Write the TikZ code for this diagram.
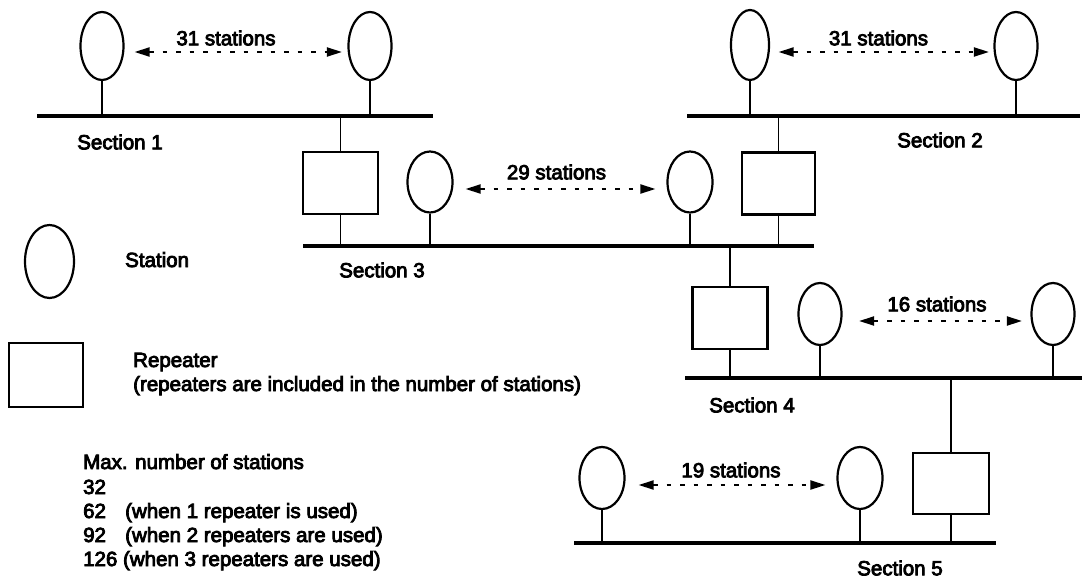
\documentclass[tikz,border=0pt]{standalone}
\usepackage{fontspec}
\setmainfont{Liberation Sans}
\newfontfamily\figfont{Liberation Sans}[FakeBold=4]
\usetikzlibrary{shapes.geometric,arrows.meta}

\begin{document}
\begin{tikzpicture}[x=1pt,y=-1pt,
  every node/.style={font=\figfont\fontsize{20.5}{24}\selectfont},
  station/.style={draw, ellipse, line width=2.2pt, inner sep=0pt,
                  minimum width=43pt, minimum height=64pt},
  repeater/.style={draw, rectangle, line width=2.3pt, inner sep=0pt,
                   minimum width=75pt, minimum height=62pt},
  bus/.style={line width=3.3pt},
  stem/.style={line width=1.7pt},
  span/.style={line width=2.2pt, dash pattern=on 4.5pt off 9pt,
               {Triangle[length=15pt,width=9pt]}-{Triangle[length=15pt,width=9pt]}},
  count/.style={inner sep=0pt},
  seclabel/.style={inner sep=0pt},
  legend/.style={inner sep=0pt, anchor=base west},
]
\useasboundingbox (0,0) rectangle (1082,586);

% ---------- bus lines ----------
\coordinate (b1w) at (37,116);  \coordinate (b1e) at (433,116);
\coordinate (b2w) at (687,116); \coordinate (b2e) at (1080,116);
\coordinate (b3w) at (303,246); \coordinate (b3e) at (814,246);
\coordinate (b4w) at (685,378); \coordinate (b4e) at (1082,378);
\coordinate (b5w) at (574,543); \coordinate (b5e) at (996,543);
\draw[bus] (b1w) -- (b1e);
\draw[bus] (b2w) -- (b2e);
\draw[bus] (b3w) -- (b3e);
\draw[bus] (b4w) -- (b4e);
\draw[bus] (b5w) -- (b5e);

% ---------- stations ----------
\node[station, minimum height=68pt] (s11) at (102,46) {};
\node[station, minimum height=68pt] (s12) at (370,46) {};
\node[station, minimum height=70pt, minimum width=38pt] (s21) at (750,45) {};
\node[station, minimum height=68pt] (s22) at (1016,46) {};
\node[station, minimum height=61pt, minimum width=45pt] (s31) at (430,182) {};
\node[station, minimum height=61pt, minimum width=45pt] (s32) at (690,182) {};
\node[station, minimum height=62pt] (s41) at (820,314) {};
\node[station, minimum height=62pt] (s42) at (1053,314) {};
\node[station, minimum height=62pt, minimum width=45pt] (s51) at (602,478) {};
\node[station, minimum height=62pt, minimum width=45pt] (s52) at (860,478) {};

\foreach \s/\b in {s11/b1w, s12/b1w, s21/b2w, s22/b2w, s31/b3w, s32/b3w,
                   s41/b4w, s42/b4w, s51/b5w, s52/b5w}
  \draw[stem] (\s.south) -- (\s |- \b);

% ---------- repeaters ----------
\node[repeater] (r1) at (340.5,183) {};
\node[repeater, minimum width=73pt] (r2) at (778.5,183.5) {};
\node[repeater] (r3) at (730,318) {};
\node[repeater, minimum width=76pt, minimum height=61pt] (r4) at (951,483.5) {};

\draw[stem] (r1 |- b1w) -- (r1.north);  \draw[stem] (r1.south) -- (r1 |- b3w);
\draw[stem] (r2 |- b2w) -- (r2.north);  \draw[stem] (r2.south) -- (r2 |- b3w);
\draw[stem] (r3 |- b3w) -- (r3.north);  \draw[stem] (r3.south) -- (r3 |- b4w);
\draw[stem] (r4 |- b4w) -- (r4.north);  \draw[stem] (r4.south) -- (r4 |- b5w);

% ---------- station counts ----------
\draw[span] ([xshift=10pt,yshift=-6pt]s11.east) -- ([xshift=-5.5pt,yshift=-6pt]s12.west);
\draw[span] ([xshift=8.5pt,yshift=-7pt]s21.east) -- ([xshift=-4.5pt,yshift=-6pt]s22.west);
\draw[span] ([xshift=12pt,yshift=-7pt]s31.east) -- ([xshift=-11pt,yshift=-7pt]s32.west);
\draw[span] ([xshift=16.5pt,yshift=-7pt]s41.east) -- ([xshift=-8.5pt,yshift=-7pt]s42.west);
\draw[span] ([xshift=13pt,yshift=-7pt]s51.east) -- ([xshift=-11pt,yshift=-7pt]s52.west);

\node[count] (c1) at (226,38)   {31 stations};
\node[count] (c2) at (878.5,38) {31 stations};
\node[count] (c3) at (556.5,172) {29 stations};
\node[count] (c4) at (937,304)  {16 stations};
\node[count] (c5) at (731,470)  {19 stations};

% ---------- section names ----------
\node[seclabel] (n1) at (120,142) {Section 1};
\node[seclabel] (n2) at (940,140) {Section 2};
\node[seclabel] (n3) at (382,270) {Section 3};
\node[seclabel] (n4) at (752,405) {Section 4};
\node[seclabel] (n5) at (900,568) {Section 5};

% ---------- legend ----------
\node[station, minimum width=49pt, minimum height=73pt] (ls) at (49.5,261.5) {};
\node[legend] (lst) at (125,267) {Station};
\node[repeater, minimum width=74pt, minimum height=64pt] (lr) at (46,375) {};
\node[legend] (lrt) at (133,367) {Repeater};
\node[legend] (lrn) at (133,391) {(repeaters are included in the number of stations)};

\node[legend] (m0) at (83,469) {Max. number of stations};
\node[legend] (m1) at (83,494) {32};
\node[legend] (m2) at (83,518) {\makebox[2.05em][l]{62}(when 1 repeater is used)};
\node[legend] (m3) at (83,542) {\makebox[2.05em][l]{92}(when 2 repeaters are used)};
\node[legend] (m4) at (83,566) {126 (when 3 repeaters are used)};
\end{tikzpicture}
\end{document}
